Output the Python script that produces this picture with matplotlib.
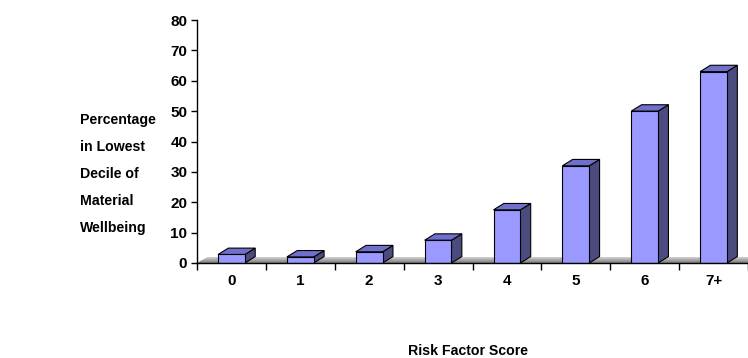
import numpy as np
import matplotlib.pyplot as plt
from matplotlib.patches import Polygon

plt.rcParams['font.family'] = ['Liberation Sans', 'DejaVu Sans']

# Chart data
categories = ['0', '1', '2', '3', '4', '5', '6', '7+']
values = [2.8, 2.0, 3.7, 7.5, 17.5, 32, 50, 63]
y_ticks = [0, 10, 20, 30, 40, 50, 60, 70, 80]

front_col = '#9999ff'
top_col = '#7070cc'
side_col = '#4b4b80'

fig = plt.figure(figsize=(7.48, 3.58), dpi=100)
ax = fig.add_axes([197 / 748, 95 / 358, 551 / 748, 243 / 358])

x = np.arange(len(categories))
w = 0.39
dx, dy = 0.15, 2.1  # depth offset in data units

ax.set_xlim(-0.5, len(categories) - 0.5)
ax.set_ylim(0, 80)

# gray floor
n = 6
for i in range(n):
    y0 = dy * i / n
    y1 = dy * (i + 1) / n
    g = 0.5 + 0.3 * i / (n - 1)
    ax.add_patch(Polygon([(-0.5 + dx * i / n, y0), (8, y0),
                          (8, y1), (-0.5 + dx * (i + 1) / n, y1)],
                         closed=True, facecolor=(g, g, g), edgecolor='none',
                         zorder=1))

# bars with 3D faces
for xi, v in zip(x, values):
    l, r = xi - w / 2, xi + w / 2
    ax.add_patch(Polygon([(r, 0), (r + dx, dy), (r + dx, v + dy), (r, v)],
                         closed=True, facecolor=side_col, edgecolor='black',
                         linewidth=0.8, zorder=3))
    ax.add_patch(Polygon([(l, v), (r, v), (r + dx, v + dy), (l + dx, v + dy)],
                         closed=True, facecolor=top_col, edgecolor='black',
                         linewidth=0.8, zorder=3))
ax.bar(x, values, width=w, color=front_col, edgecolor='black',
       linewidth=0.8, zorder=4)

for s in ['top', 'right']:
    ax.spines[s].set_visible(False)
ax.spines['left'].set_linewidth(1.0)
ax.spines['bottom'].set_linewidth(1.0)
ax.spines['bottom'].set_zorder(5)

ax.set_yticks(y_ticks)
ax.set_yticklabels([str(t) for t in y_ticks], fontsize=11, fontweight='bold')
ax.tick_params(axis='y', length=4, width=1, pad=3)

ax.set_xticks(np.arange(len(categories) + 1) - 0.5, minor=True)
ax.set_xticks(x)
ax.set_xticklabels(categories, fontsize=11, fontweight='bold')
ax.tick_params(axis='x', which='major', length=0, pad=8)
ax.tick_params(axis='x', which='minor', length=5, width=1, direction='out')

fig.text(80 / 748, 1 - 174 / 358,
         'Percentage\nin Lowest\nDecile of\nMaterial\nWellbeing',
         fontsize=10.2, fontweight='bold', ha='left', va='center',
         linespacing=2.2)
fig.text(468 / 748, 1 - 351 / 358, 'Risk Factor Score',
         fontsize=10.2, fontweight='bold', ha='center', va='center')

fig.savefig('out.png', dpi=100)
